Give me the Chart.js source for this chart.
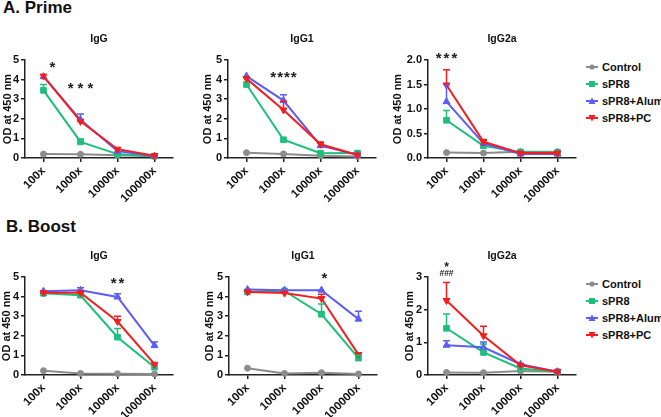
<!DOCTYPE html>
<html>
<head>
<meta charset="utf-8">
<script src="https://cdn.jsdelivr.net/npm/chart.js@4.4.1/dist/chart.umd.min.js"></script>
<style>
  html, body { margin: 0; padding: 0; background: #fff; }
  #fig { position: relative; width: 661px; height: 417px; overflow: hidden; font-family: "Liberation Sans", Arial, sans-serif; }
  .panel { position: absolute; }
  .head { position: absolute; font-weight: bold; font-size: 17px; line-height: 17px; color: #111; white-space: nowrap; }
  .legend { position: absolute; left: 586px; font-weight: bold; font-size: 11px; color: #111; }
  .legend div { height: 17px; display: flex; align-items: center; white-space: nowrap; }
  .legend svg { margin-right: 4px; }
</style>
</head>
<body>
<div id="fig">
  <div class="head" style="left:3px;top:-1px">A. Prime</div>
  <div class="head" style="left:6px;top:218px">B. Boost</div>
  <div class="legend" id="legTop" style="top:58px"></div>
  <div class="legend" id="legBot" style="top:275px"></div>
</div>
<script>
// categories and groups
const DILUTIONS = ["100x", "1000x", "10000x", "100000x"];
const GROUPS = ["Control", "sPR8", "sPR8+Alum", "sPR8+PC"];
const GROUP_COLORS = ["#8c8c8c", "#1dbf7d", "#5c5cf6", "#f41e1e"];
const GROUP_MARKERS = ["circle", "rect", "triangle", "triangle"];
const GROUP_ROT = [0, 0, 0, 180];

// A. Prime - mean OD (rows = groups) and upper SD
const primeIgG = [
  [0.2, 0.19, 0.14, 0.09],
  [3.45, 0.82, 0.2, 0.09],
  [4.15, 1.95, 0.35, 0.1],
  [4.18, 1.87, 0.45, 0.12]
];
const primeIgGErr = [
  [0.02, 0.02, 0.02, 0.01],
  [0.3, 0.15, 0.03, 0.02],
  [0.05, 0.3, 0.06, 0.02],
  [0.05, 0.1, 0.05, 0.02]
];
const primeIgG1 = [
  [0.27, 0.21, 0.12, 0.08],
  [3.75, 0.93, 0.24, 0.25],
  [4.18, 2.93, 0.63, 0.16],
  [4.05, 2.45, 0.7, 0.15]
];
const primeIgG1Err = [
  [0.02, 0.02, 0.02, 0.01],
  [0.1, 0.05, 0.03, 0.03],
  [0.05, 0.3, 0.05, 0.02],
  [0.05, 0.45, 0.12, 0.02]
];
const primeIgG2a = [
  [0.11, 0.1, 0.13, 0.13],
  [0.77, 0.25, 0.12, 0.11],
  [1.15, 0.3, 0.08, 0.08],
  [1.49, 0.33, 0.1, 0.1]
];
const primeIgG2aErr = [
  [0.01, 0.01, 0.01, 0.01],
  [0.2, 0.02, 0.02, 0.02],
  [0.35, 0.03, 0.01, 0.01],
  [0.31, 0.05, 0.02, 0.01]
];

// B. Boost
const boostIgG = [
  [0.22, 0.08, 0.07, 0.05],
  [4.17, 4.07, 1.93, 0.4],
  [4.27, 4.32, 3.98, 1.5],
  [4.2, 4.2, 2.73, 0.55]
];
const boostIgGErr = [
  [0.02, 0.01, 0.01, 0.01],
  [0.05, 0.05, 0.44, 0.05],
  [0.05, 0.13, 0.17, 0.18],
  [0.04, 0.04, 0.27, 0.05]
];
const boostIgG1 = [
  [0.35, 0.08, 0.12, 0.05],
  [4.24, 4.29, 3.1, 0.86],
  [4.36, 4.33, 4.33, 2.85],
  [4.24, 4.18, 3.9, 1.04]
];
const boostIgG1Err = [
  [0.03, 0.01, 0.01, 0.01],
  [0.05, 0.05, 0.52, 0.15],
  [0.04, 0.04, 0.04, 0.4],
  [0.04, 0.04, 0.22, 0.08]
];
const boostIgG2a = [
  [0.08, 0.07, 0.12, 0.1],
  [1.43, 0.69, 0.2, 0.1],
  [0.91, 0.85, 0.33, 0.1],
  [2.28, 1.2, 0.3, 0.1]
];
const boostIgG2aErr = [
  [0.01, 0.01, 0.01, 0.01],
  [0.44, 0.26, 0.04, 0.02],
  [0.14, 0.16, 0.05, 0.02],
  [0.55, 0.29, 0.04, 0.02]
];

const AREA_W = 148;
const PAD_R = 14;
const X_H = 50;
const CANVAS_H = 182;
const FONT = '"Liberation Sans", Arial, sans-serif';

Chart.defaults.font.family = FONT;
Chart.defaults.color = "#111";

const PANELS = [
  { title: "IgG", left: 1, top: 26, yw: 24, yMax: 5, step: 1, dec: 0, values: primeIgG, errors: primeIgGErr,
    marks: [{ cat: 0, y: 4.8, text: "*", dx: 9 }, { cat: 1, y: 3.74, text: "***", gap: 4 }] },
  { title: "IgG1", left: 201, top: 26, yw: 27, yMax: 5, step: 1, dec: 0, values: primeIgG1, errors: primeIgG1Err,
    marks: [{ cat: 1, y: 4.33, text: "****", gap: 1 }] },
  { title: "IgG2a", left: 391, top: 26, yw: 37, yMax: 2, step: 0.5, dec: 1, values: primeIgG2a, errors: primeIgG2aErr,
    marks: [{ cat: 0, y: 2.11, text: "***", gap: 2 }] },
  { title: "IgG", left: 0, top: 243, yw: 25, yMax: 5, step: 1, dec: 0, values: boostIgG, errors: boostIgGErr,
    marks: [{ cat: 2, y: 4.9, text: "**", gap: 2 }] },
  { title: "IgG1", left: 203, top: 243, yw: 26, yMax: 5, step: 1, dec: 0, values: boostIgG1, errors: boostIgG1Err,
    marks: [{ cat: 2, y: 5.13, text: "*", dx: 3 }] },
  { title: "IgG2a", left: 403, top: 243, yw: 25, yMax: 3, step: 1, dec: 0, values: boostIgG2a, errors: boostIgG2aErr,
    marks: [{ cat: 0, y: 3.38, text: "*", size: 12 }, { cat: 0, y: 3.11, text: "###", size: 8.5 }] }
];

// upward SD bars
const errorBars = {
  id: "errorBars",
  afterDatasetsDraw(chart) {
    const ctx = chart.ctx;
    const yScale = chart.scales.y;
    const metas = chart.getSortedVisibleDatasetMetas().slice().reverse();
    metas.forEach(meta => {
      const ds = chart.data.datasets[meta.index];
      if (!ds.errors) return;
      ctx.save();
      ctx.strokeStyle = ds.borderColor;
      ctx.lineWidth = 1.5;
      meta.data.forEach((pt, i) => {
        const v = ds.data[i];
        const e = ds.errors[i];
        if (!e) return;
        const y0 = yScale.getPixelForValue(v);
        const y1 = yScale.getPixelForValue(v + e);
        if (y0 - y1 < 2) return;
        ctx.beginPath();
        ctx.moveTo(pt.x, y0);
        ctx.lineTo(pt.x, y1);
        ctx.moveTo(pt.x - 3.5, y1);
        ctx.lineTo(pt.x + 3.5, y1);
        ctx.stroke();
      });
      ctx.restore();
    });
  }
};

// significance marks
const sigMarks = {
  id: "sigMarks",
  afterDraw(chart, args, opts) {
    const ctx = chart.ctx;
    const xs = chart.scales.x, ys = chart.scales.y;
    (opts.marks || []).forEach(m => {
      const size = m.size || 15;
      const x = xs.getPixelForValue(m.cat) + (m.dx || 0);
      const y = ys.getPixelForValue(m.y);
      const lift = m.text.indexOf("*") >= 0 ? 0.57 : 0.36;
      ctx.save();
      ctx.font = "bold " + size + "px " + FONT;
      ctx.fillStyle = "#222";
      ctx.textAlign = "center";
      ctx.textBaseline = "alphabetic";
      if ("letterSpacing" in ctx) ctx.letterSpacing = (m.gap || 0) + "px";
      ctx.fillText(m.text, x + (m.gap || 0) / 2, y + lift * size);
      ctx.restore();
    });
  }
};

function makePanel(p) {
  const w = p.yw + AREA_W + PAD_R;
  const wrap = document.createElement("div");
  wrap.className = "panel";
  wrap.style.left = p.left + "px";
  wrap.style.top = p.top + "px";
  wrap.style.width = w + "px";
  wrap.style.height = CANVAS_H + "px";
  const cv = document.createElement("canvas");
  cv.width = w;
  cv.height = CANVAS_H;
  wrap.appendChild(cv);
  document.getElementById("fig").appendChild(wrap);

  new Chart(cv, {
    type: "line",
    data: {
      labels: DILUTIONS,
      datasets: GROUPS.map((g, i) => ({
        label: g,
        data: p.values[i],
        errors: p.errors[i],
        borderColor: GROUP_COLORS[i],
        backgroundColor: GROUP_COLORS[i],
        borderWidth: 2,
        pointStyle: GROUP_MARKERS[i],
        pointRotation: GROUP_ROT[i],
        pointRadius: i === 0 ? 3 : 4,
        pointBorderWidth: 1,
        tension: 0,
        clip: false,
        order: GROUPS.length - 1 - i
      }))
    },
    options: {
      responsive: false,
      animation: false,
      layout: { padding: { left: 0, right: PAD_R, top: 0, bottom: 0 } },
      plugins: {
        legend: { display: false },
        tooltip: { enabled: false },
        title: {
          display: true, text: p.title, fullSize: false, color: "#111",
          font: { size: 10.5, weight: "bold" },
          padding: { top: 6.7, bottom: 14.7 }
        },
        sigMarks: { marks: p.marks }
      },
      scales: {
        x: {
          type: "category",
          offset: true,
          grid: { offset: false, drawOnChartArea: false, drawTicks: true, tickLength: 4, color: "#222", lineWidth: 1.5 },
          border: { display: true, color: "#222", width: 1.5 },
          ticks: { autoSkip: false, minRotation: 45, maxRotation: 45, padding: 2, color: "#111", font: { size: 11.5, weight: "bold" } },
          afterFit: s => { s.height = X_H; }
        },
        y: {
          min: 0,
          max: p.yMax,
          grid: { drawOnChartArea: false, tickLength: 4, color: "#222", lineWidth: 1.5 },
          border: { display: true, color: "#222", width: 1.5 },
          ticks: {
            stepSize: p.step, padding: 2, color: "#111",
            font: { size: 11, weight: "bold" },
            callback: v => Number(v).toFixed(p.dec)
          },
          title: { display: true, text: "OD at 450 nm", color: "#111", font: { size: 11, weight: "bold" }, padding: 0 },
          afterFit: s => { s.width = p.yw; }
        }
      }
    },
    plugins: [errorBars, sigMarks]
  });
}

PANELS.forEach(makePanel);

// legends
function legendIcon(i) {
  const c = GROUP_COLORS[i];
  let m;
  if (GROUP_MARKERS[i] === "circle") m = '<circle cx="6" cy="5" r="2.6" fill="' + c + '"/>';
  else if (GROUP_MARKERS[i] === "rect") m = '<rect x="3" y="2" width="6" height="6" fill="' + c + '"/>';
  else if (GROUP_ROT[i] === 180) m = '<polygon points="6,8.5 9.5,2 2.5,2" fill="' + c + '"/>';
  else m = '<polygon points="6,1.5 9.5,8 2.5,8" fill="' + c + '"/>';
  return '<svg width="12" height="10"><line x1="0" y1="5" x2="12" y2="5" stroke="' + c + '" stroke-width="2"/>' + m + '</svg>';
}
["legTop", "legBot"].forEach(id => {
  const el = document.getElementById(id);
  GROUPS.forEach((g, i) => {
    const row = document.createElement("div");
    row.innerHTML = legendIcon(i) + "<span>" + g + "</span>";
    el.appendChild(row);
  });
});
</script>
</body>
</html>
